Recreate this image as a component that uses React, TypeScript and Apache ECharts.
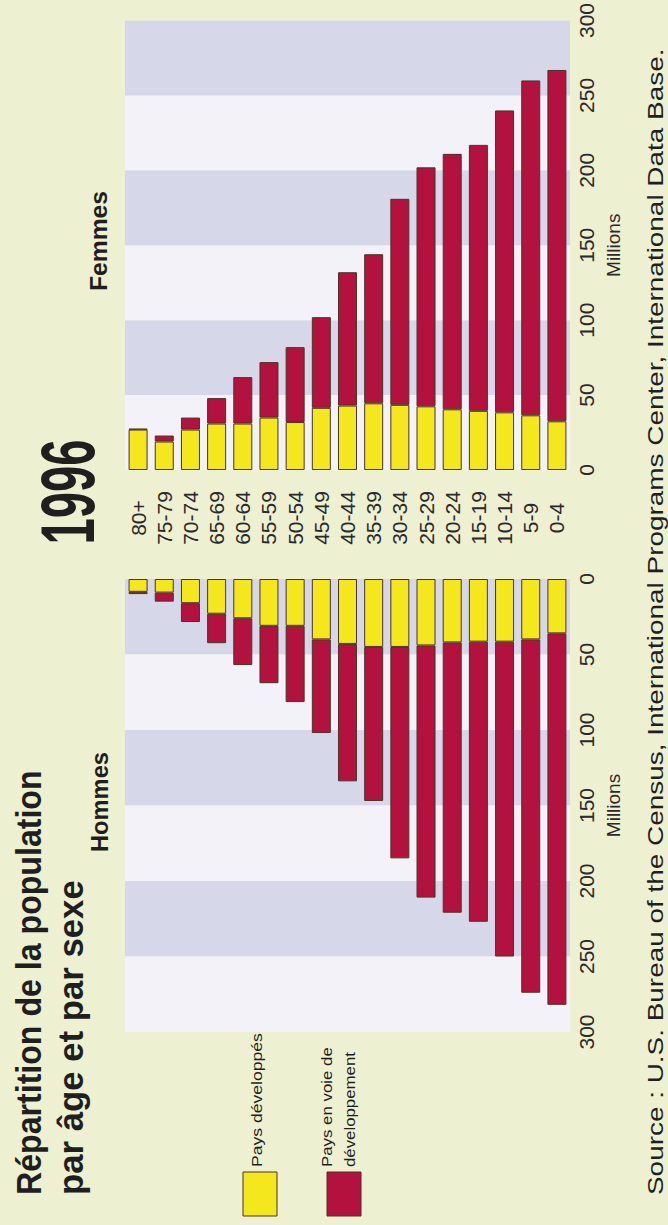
import React, { useEffect, useRef } from 'react';
import * as echarts from 'echarts';

// ---- data (millions) ----
const ageGroups = ['80+', '75-79', '70-74', '65-69', '60-64', '55-59', '50-54', '45-49', '40-44', '35-39', '30-34', '25-29', '20-24', '15-19', '10-14', '5-9', '0-4'];
const femmesDeveloppes = [27, 19, 27, 31, 31, 35, 32, 41.5, 43, 44.5, 43.5, 42.5, 40.5, 39.5, 38.5, 36.5, 32.5];
const femmesEnDeveloppement = [0.5, 4, 8, 17, 31, 37, 50, 60.5, 89, 99.5, 137.5, 159.5, 170.5, 177.5, 201.5, 223.5, 234.5];
const hommesDeveloppes = [8.5, 9, 16, 23, 26, 31, 31, 40, 43, 45, 45, 44, 42, 41.5, 41.5, 40, 36];
const hommesEnDeveloppement = [1.5, 6, 12.5, 19.5, 31, 38, 50.5, 62, 91, 102, 140, 167, 179, 185.5, 208.5, 234, 246];
const axisMin = 0;
const axisMax = 300;
const axisStep = 50;
const seriesNames = ['Pays développés', 'Pays en voie de développement'];
const seriesColors = ['#f5e71e', '#b3123e'];

const FONT = '"Liberation Sans", Arial, Helvetica, sans-serif';
const INK = '#1f1f1f';
const CREAM = '#eef0d2';
const WHITE_BAND = '#f2f2f8';
const LAV_BAND = '#d7d7ea';
const BORDER = '#4b3327';

let measureCtx: CanvasRenderingContext2D | null = null;
function measure(text: string, size: number, weight: string) {
  if (!measureCtx) measureCtx = document.createElement('canvas').getContext('2d');
  if (!measureCtx) return text.length * size * 0.5;
  measureCtx.font = `${weight} ${size}px ${FONT}`;
  return measureCtx.measureText(text).width;
}

// vertical text reading bottom-to-top
function vText(o: { text: string; x: number; y: number; size: number; weight?: string; length?: number; align?: string; vAlign?: string; color?: string }) {
  const weight = o.weight || 'normal';
  const w = measure(o.text, o.size, weight);
  const sx = o.length ? o.length / w : 1;
  const align = o.align || 'left';
  const vAlign = o.vAlign || 'top';
  return {
    type: 'text',
    x: o.x,
    y: o.y,
    rotation: Math.PI / 2,
    scaleX: sx,
    silent: true,
    style: {
      text: o.text,
      fontSize: o.size,
      fontWeight: weight,
      fontFamily: FONT,
      fill: o.color || INK,
      align,
      verticalAlign: vAlign,
      textAlign: align,
      textVerticalAlign: vAlign,
    },
  };
}

function valueAxis(gridIndex: number, inverse: boolean, bands: string[]) {
  return {
    type: 'value',
    gridIndex,
    inverse,
    min: axisMin,
    max: axisMax,
    interval: axisStep,
    position: 'right',
    axisLine: { show: false },
    axisTick: { show: false },
    splitLine: { show: false },
    splitArea: { show: true, areaStyle: { color: bands } },
    axisLabel: { rotate: 90, margin: 16, fontSize: 21, color: '#2a2a2a', fontFamily: FONT, align: 'center', verticalAlign: 'middle' },
    name: 'Millions',
    nameLocation: 'middle',
    nameRotate: 90,
    nameGap: 27,
    nameTextStyle: { fontSize: 19, color: '#2a2a2a', fontFamily: FONT },
  };
}

function barSeries(name: string, color: string, data: number[], idx: number, stack: string) {
  return {
    name,
    type: 'bar',
    stack,
    xAxisIndex: idx,
    yAxisIndex: idx,
    data,
    barWidth: 19,
    itemStyle: { color, borderColor: BORDER, borderWidth: 1 },
  };
}

export default function App() {
  const ref = useRef<HTMLDivElement>(null);
  useEffect(() => {
    document.body.style.margin = '0';
    if (!ref.current) return;
    const chart = echarts.init(ref.current, undefined, { renderer: 'svg' });
    const legendGraphics: any[] = [];
    legendGraphics.push({ type: 'rect', shape: { x: 243, y: 1172, width: 34, height: 44 }, style: { fill: seriesColors[0], stroke: BORDER, lineWidth: 1 } });
    legendGraphics.push({ type: 'rect', shape: { x: 327, y: 1172, width: 34, height: 44 }, style: { fill: seriesColors[1], stroke: BORDER, lineWidth: 1 } });
    legendGraphics.push(vText({ text: seriesNames[0], x: 256, y: 1167, size: 15, length: 134, align: 'left', vAlign: 'middle' }));
    legendGraphics.push(vText({ text: 'Pays en voie de', x: 327, y: 1167, size: 15, length: 120, align: 'left', vAlign: 'middle' }));
    legendGraphics.push(vText({ text: 'développement', x: 350, y: 1167, size: 15, length: 115, align: 'left', vAlign: 'middle' }));

    chart.setOption({
      animation: false,
      backgroundColor: CREAM,
      textStyle: { fontFamily: FONT },
      grid: [
        { left: 125, top: 17, width: 445, height: 453 },
        { left: 125, top: 579, width: 445, height: 453 },
      ],
      xAxis: [
        {
          type: 'category',
          gridIndex: 0,
          data: ageGroups,
          position: 'bottom',
          axisLine: { show: false },
          axisTick: { show: false },
          axisLabel: { interval: 0, rotate: 90, margin: 48, fontSize: 21, color: '#2a2a2a', align: 'center', verticalAlign: 'middle' },
        },
        {
          type: 'category',
          gridIndex: 1,
          data: ageGroups,
          position: 'top',
          axisLine: { show: false },
          axisTick: { show: false },
          axisLabel: { show: false },
        },
      ],
      yAxis: [valueAxis(0, false, [WHITE_BAND, LAV_BAND]), valueAxis(1, true, [LAV_BAND, WHITE_BAND])],
      series: [
        barSeries(seriesNames[0], seriesColors[0], femmesDeveloppes, 0, 'femmes'),
        barSeries(seriesNames[1], seriesColors[1], femmesEnDeveloppement, 0, 'femmes'),
        barSeries(seriesNames[0], seriesColors[0], hommesDeveloppes, 1, 'hommes'),
        barSeries(seriesNames[1], seriesColors[1], hommesEnDeveloppement, 1, 'hommes'),
      ],
      graphic: {
        elements: [
          vText({ text: 'Répartition de la population', x: 12, y: 1195, size: 35, weight: 'bold', length: 425 }),
          vText({ text: 'par âge et par sexe', x: 53, y: 1195, size: 35, weight: 'bold', length: 315 }),
          vText({ text: 'Hommes', x: 99, y: 802, size: 24, weight: 'bold', length: 100, align: 'center', vAlign: 'middle' }),
          vText({ text: 'Femmes', x: 99, y: 241, size: 24, weight: 'bold', length: 100, align: 'center', vAlign: 'middle' }),
          vText({ text: '1996', x: 68, y: 492, size: 76, weight: 'bold', length: 105, align: 'center', vAlign: 'middle' }),
          vText({ text: 'Source : U.S. Bureau of the Census, International Programs Center, International Data Base.', x: 655, y: 1195, size: 22, length: 1147, align: 'left', vAlign: 'middle' }),
          ...legendGraphics,
        ],
      },
    });
    return () => chart.dispose();
  }, []);
  return <div ref={ref} style={{ width: 668, height: 1225 }} />;
}
